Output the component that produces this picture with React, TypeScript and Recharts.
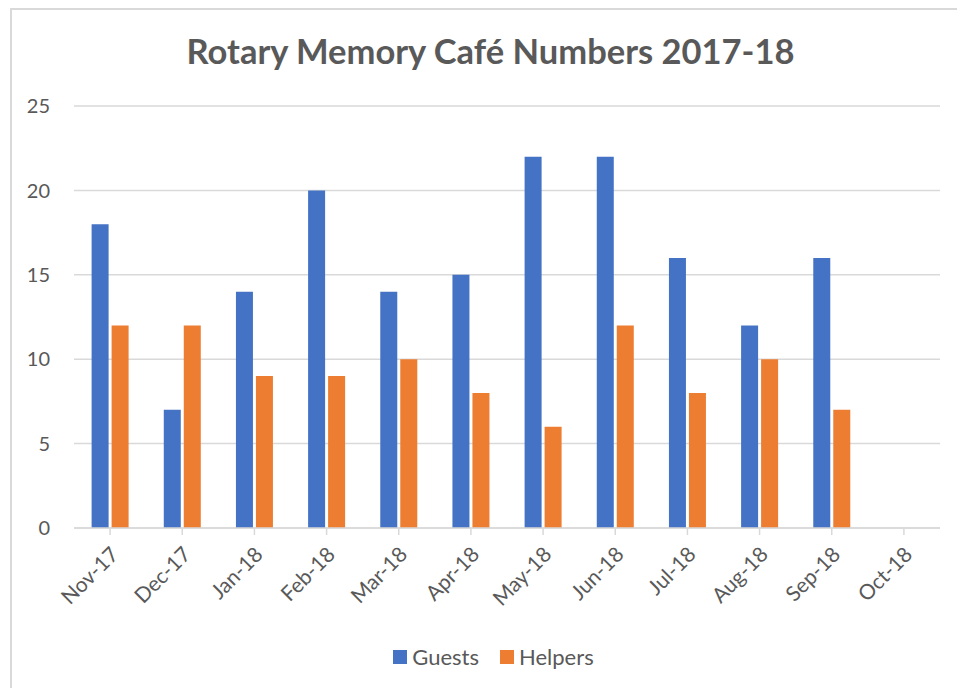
import React from "react";
import { BarChart, Bar, XAxis, YAxis, CartesianGrid } from "recharts";

const months = ["Nov-17", "Dec-17", "Jan-18", "Feb-18", "Mar-18", "Apr-18", "May-18", "Jun-18", "Jul-18", "Aug-18", "Sep-18", "Oct-18"];
const guests = [18, 7, 14, 20, 14, 15, 22, 22, 16, 12, 16, null];
const helpers = [12, 12, 9, 9, 10, 8, 6, 12, 8, 10, 7, null];
const yTicks = [0, 5, 10, 15, 20, 25];

const data = months.map((m, i) => ({ month: m, Guests: guests[i], Helpers: helpers[i] }));

const FONT = "Lato, 'Open Sans', sans-serif";
const TEXT = "#595959";
const BLUE = "#4472C4";
const ORANGE = "#ED7D31";

const XTick = (props: any) => {
  const { x, y, payload } = props;
  return (
    <g transform={`translate(${x + 6},${y + 15})`}>
      <text transform="rotate(-45)" textAnchor="end" dominantBaseline="middle" fill={TEXT} fontSize={21} fontFamily={FONT}>
        {payload.value}
      </text>
    </g>
  );
};

export default function App() {
  return (
    <div style={{ position: "absolute", left: 0, top: 0, width: 957, height: 688, background: "#fff", overflow: "hidden" }}>
      <div style={{ position: "absolute", left: 10, top: 8, width: 960, height: 700, borderLeft: "2px solid #d9d9d9", borderTop: "2px solid #d9d9d9" }} />
      <div style={{ position: "absolute", left: 0, top: 30, width: 957, textAlign: "center", fontFamily: FONT, fontWeight: 700, fontSize: 34.5, color: TEXT, paddingLeft: 24, boxSizing: "border-box" }}>
        Rotary Memory Café Numbers 2017-18
      </div>
      <div style={{ position: "absolute", left: 0, top: 0 }}>
        <BarChart width={957} height={688} data={data} margin={{ top: 106, right: 17, bottom: 60, left: 0 }} barCategoryGap="24.4%" barGap={3}>
          <CartesianGrid vertical={false} stroke="#d9d9d9" strokeWidth={1.5} />
          <XAxis
            dataKey="month"
            interval={0}
            height={100}
            tick={<XTick />}
            axisLine={{ stroke: "#d9d9d9", strokeWidth: 1.5 }}
            tickLine={{ stroke: "#d9d9d9", strokeWidth: 1.5 }}
            tickSize={7}
          />
          <YAxis
            domain={[0, 25]}
            ticks={yTicks}
            width={74}
            axisLine={false}
            tickLine={false}
            tickMargin={18}
            tick={{ fill: TEXT, fontSize: 20, fontFamily: FONT }}
          />
          <Bar dataKey="Guests" fill={BLUE} isAnimationActive={false} />
          <Bar dataKey="Helpers" fill={ORANGE} isAnimationActive={false} />
        </BarChart>
      </div>
      <div style={{ position: "absolute", left: 0, top: 643, width: 957, display: "flex", justifyContent: "center", fontFamily: FONT, fontSize: 22, color: TEXT, paddingLeft: 30, boxSizing: "border-box" }}>
        <span style={{ display: "flex", alignItems: "center", marginRight: 21 }}>
          <span style={{ width: 14, height: 14, background: BLUE, marginRight: 5, display: "inline-block" }} />
          Guests
        </span>
        <span style={{ display: "flex", alignItems: "center" }}>
          <span style={{ width: 14, height: 14, background: ORANGE, marginRight: 5, display: "inline-block" }} />
          Helpers
        </span>
      </div>
    </div>
  );
}
